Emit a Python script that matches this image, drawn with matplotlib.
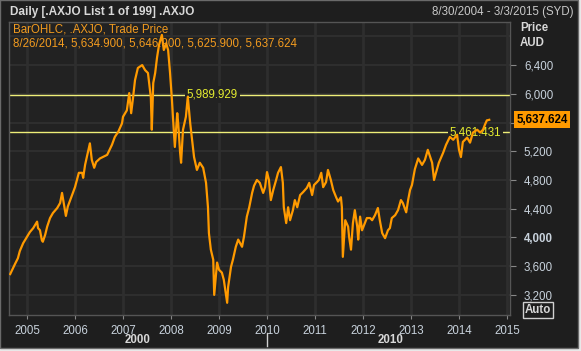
import matplotlib
matplotlib.use("Agg")
import matplotlib.pyplot as plt
import matplotlib.transforms as mtransforms
from matplotlib.patches import Rectangle
from matplotlib.lines import Line2D
from matplotlib.ticker import FuncFormatter

plt.rcParams['font.family'] = ['Liberation Sans', 'DejaVu Sans']

# S&P/ASX 200 (.AXJO) daily (decimal year, price)
years = [
    2004.65, 2004.75, 2004.81, 2004.85, 2004.92, 2005.00, 2005.06, 2005.13, 2005.21, 2005.23,
    2005.27, 2005.31, 2005.33, 2005.38, 2005.42, 2005.48, 2005.54, 2005.63, 2005.69, 2005.73,
    2005.79, 2005.81, 2005.85, 2005.90, 2005.94, 2006.00, 2006.04, 2006.08, 2006.15, 2006.17,
    2006.21, 2006.27, 2006.31, 2006.35, 2006.40, 2006.44, 2006.52, 2006.67, 2006.77, 2006.83,
    2006.90, 2006.98, 2007.00, 2007.08, 2007.13, 2007.17, 2007.21, 2007.25, 2007.31, 2007.40,
    2007.46, 2007.52, 2007.58, 2007.60, 2007.63, 2007.67, 2007.71, 2007.75, 2007.81, 2007.85,
    2007.90, 2007.94, 2007.98, 2008.02, 2008.04, 2008.08, 2008.13, 2008.15, 2008.19, 2008.21,
    2008.25, 2008.31, 2008.35, 2008.40, 2008.44, 2008.48, 2008.54, 2008.60, 2008.67, 2008.73,
    2008.77, 2008.79, 2008.83, 2008.88, 2008.90, 2008.96, 2009.00, 2009.06, 2009.10, 2009.17,
    2009.19, 2009.25, 2009.29, 2009.35, 2009.40, 2009.48, 2009.52, 2009.58, 2009.63, 2009.69,
    2009.73, 2009.79, 2009.85, 2009.92, 2009.96, 2010.00, 2010.04, 2010.08, 2010.13, 2010.19,
    2010.23, 2010.29, 2010.33, 2010.35, 2010.40, 2010.44, 2010.48, 2010.54, 2010.58, 2010.63,
    2010.69, 2010.75, 2010.83, 2010.88, 2010.94, 2010.98, 2011.04, 2011.08, 2011.13, 2011.17,
    2011.23, 2011.27, 2011.33, 2011.38, 2011.44, 2011.48, 2011.54, 2011.56, 2011.58, 2011.63,
    2011.69, 2011.71, 2011.75, 2011.79, 2011.83, 2011.88, 2011.90, 2011.94, 2011.98, 2012.04,
    2012.08, 2012.15, 2012.19, 2012.25, 2012.31, 2012.35, 2012.40, 2012.46, 2012.52, 2012.56,
    2012.60, 2012.67, 2012.73, 2012.79, 2012.83, 2012.90, 2012.94, 2012.98, 2013.02, 2013.08,
    2013.15, 2013.23, 2013.29, 2013.35, 2013.44, 2013.48, 2013.52, 2013.58, 2013.67, 2013.73,
    2013.81, 2013.88, 2013.96, 2014.00, 2014.04, 2014.08, 2014.17, 2014.23, 2014.29, 2014.38,
    2014.44, 2014.50, 2014.54, 2014.58, 2014.63,
]
prices = [
    3490, 3630, 3710, 3810, 3920, 4010, 4075, 4130, 4220, 4130,
    4100, 3960, 3940, 4040, 4150, 4270, 4340, 4410, 4480, 4620,
    4380, 4300, 4430, 4520, 4590, 4700, 4800, 4900, 4900, 4830,
    5010, 5190, 5310, 5080, 4970, 5050, 5100, 5150, 5290, 5400,
    5470, 5590, 5680, 5770, 6010, 5730, 5950, 6190, 6360, 6400,
    6330, 6290, 5950, 5500, 6150, 6290, 6510, 6680, 6820, 6610,
    6700, 6610, 6290, 5910, 5680, 5260, 5730, 5590, 5180, 5040,
    5500, 5680, 5960, 5590, 5360, 5120, 4940, 5040, 4970, 4760,
    4420, 4060, 3830, 3690, 3200, 3650, 3550, 3510, 3410, 3090,
    3310, 3590, 3690, 3870, 3970, 3870, 4010, 4290, 4420, 4620,
    4720, 4800, 4760, 4620, 4700, 4910, 4800, 4520, 4660, 4800,
    4900, 4980, 4760, 4420, 4200, 4420, 4240, 4380, 4520, 4420,
    4590, 4630, 4690, 4760, 4590, 4730, 4770, 4800, 4900, 4700,
    4770, 4940, 4800, 4660, 4560, 4500, 4560, 4420, 3730, 4240,
    4150, 4010, 3830, 4200, 4380, 4150, 3970, 4290, 4100, 4200,
    4270, 4270, 4240, 4310, 4410, 4240, 4060, 3990, 4100, 4130,
    4270, 4310, 4380, 4520, 4480, 4350, 4520, 4660, 4730, 4950,
    5100, 5010, 5080, 5220, 5040, 4800, 4900, 5040, 5180, 5290,
    5400, 5360, 5430, 5220, 5120, 5330, 5390, 5320, 5460, 5500,
    5460, 5500, 5570, 5630, 5638,
]

year_ticks = list(range(2005, 2016))
price_ticks = [3200, 3600, 4000, 4400, 4800, 5200, 5600, 6000, 6400]
grid_prices = [3200, 3600, 4000, 4400, 4800, 5200, 5600, 6000, 6400, 6800]
level_lines = [5989.929, 5461.431]
level_label_x = [2008.33, 2013.81]
last_date = "8/26/2014"
last_ohlc = [5634.900, 5646.900, 5625.900, 5637.624]

BG = '#1e1e1e'
PANEL = '#222222'
GRID = '#2e2e2e'
ORANGE = '#ff9a00'
TXT = '#c8d2dc'
W, H = 581, 351


def px(x, y):
    return x / W, 1 - y / H


fig = plt.figure(figsize=(W / 100, H / 100), dpi=100, facecolor='#e8e8e8')
fig.patches.append(Rectangle((0, 3 / H), 578 / W, 348 / H, transform=fig.transFigure,
                             facecolor=BG, edgecolor='#6a6a6a', lw=1, zorder=-5))

ax = fig.add_axes([9 / W, 36 / H, 501 / W, 293 / H])
ax.set_facecolor(PANEL)
ax.set_xlim(2004.625, 2015.0625)
ax.set_ylim(2920, 7000)

for yr in year_ticks:
    ax.axvline(yr, color=GRID, lw=2, zorder=0)
for p in grid_prices:
    ax.axhline(p, color=GRID, lw=1.5, zorder=0)

# level lines with labels
for lvl, lx in zip(level_lines, level_label_x):
    ax.axhline(lvl, color='#eeee78', lw=1, zorder=1)
    ax.text(lx, lvl, f"{lvl:,.3f}", color='#e4ec30', fontsize=8.3, va='center', ha='left',
            zorder=2, bbox=dict(facecolor=PANEL, edgecolor='none', pad=1.5))

ax.plot(years, prices, color=ORANGE, lw=1.6, zorder=3)

for s in ax.spines.values():
    s.set_color('#555555')
    s.set_linewidth(1)

ax.yaxis.tick_right()
ax.set_yticks(price_ticks)
# the 5,600 label sits under the last-price tag
ax.yaxis.set_major_formatter(FuncFormatter(lambda v, _: "" if v == 5600 else f"{v:,.0f}"))
ax.tick_params(axis='y', colors='#888888', labelcolor=TXT, labelsize=8.3, length=4, pad=6)
ax.set_xticks(year_ticks)
ax.set_xticklabels([str(y) for y in year_ticks])
ax.tick_params(axis='x', colors='#888888', labelcolor=TXT, labelsize=8.3, length=3, pad=4)
fig.canvas.draw()
for lab in ax.get_yticklabels():
    if lab.get_text() == '4,000':
        lab.set_fontweight('bold')

# last price tag
tr = mtransforms.blended_transform_factory(ax.transAxes, ax.transData)
ax.text(1.013, last_ohlc[3], f"{last_ohlc[3]:,.3f}", transform=tr, color='black',
        fontsize=8.3, fontweight='bold', va='center', ha='left', clip_on=False, zorder=5,
        bbox=dict(facecolor=ORANGE, edgecolor='none', pad=1.8))

# header texts
fig.text(*px(10, 12), "Daily [.AXJO List 1 of 199] .AXJO", color='#d8d8d8',
         fontsize=8.5, fontweight='bold', va='center', ha='left')
fig.text(*px(573, 12), "8/30/2004 - 3/3/2015 (SYD)", color='#c8c8c8',
         fontsize=8.3, va='center', ha='right')
fig.text(*px(13, 30), "BarOHLC, .AXJO, Trade Price", color='#f29b1f', fontsize=8.3,
         va='center', ha='left')
fig.text(*px(13, 44), last_date + ", " + ", ".join(f"{v:,.3f}" for v in last_ohlc),
         color='#f29b1f', fontsize=8.3, va='center', ha='left')
fig.text(*px(520, 28), "Price", color='#d8d8d8', fontsize=8.3, fontweight='bold',
         va='center', ha='left')
fig.text(*px(520, 43), "AUD", color='#d8d8d8', fontsize=8.3, fontweight='bold',
         va='center', ha='left')
fig.text(*px(525, 310), "Auto", color='#d8d8d8', fontsize=8.3, fontweight='bold',
         va='center', ha='left',
         bbox=dict(facecolor='none', edgecolor='#d0d0d0', pad=1.2, lw=1))

# decade row
fig.text(*px(138, 340), "2000", color='#d8d8d8', fontsize=8.3, fontweight='bold',
         va='center', ha='center')
fig.text(*px(391, 340), "2010", color='#d8d8d8', fontsize=8.3, fontweight='bold',
         va='center', ha='center')
fig.lines.append(Line2D([267 / W, 267 / W], [1 - 333 / H, 1 - 346 / H],
                        transform=fig.transFigure, color='#d0d0d0', lw=1))

fig.savefig('out.png', dpi=100, facecolor=fig.get_facecolor())
